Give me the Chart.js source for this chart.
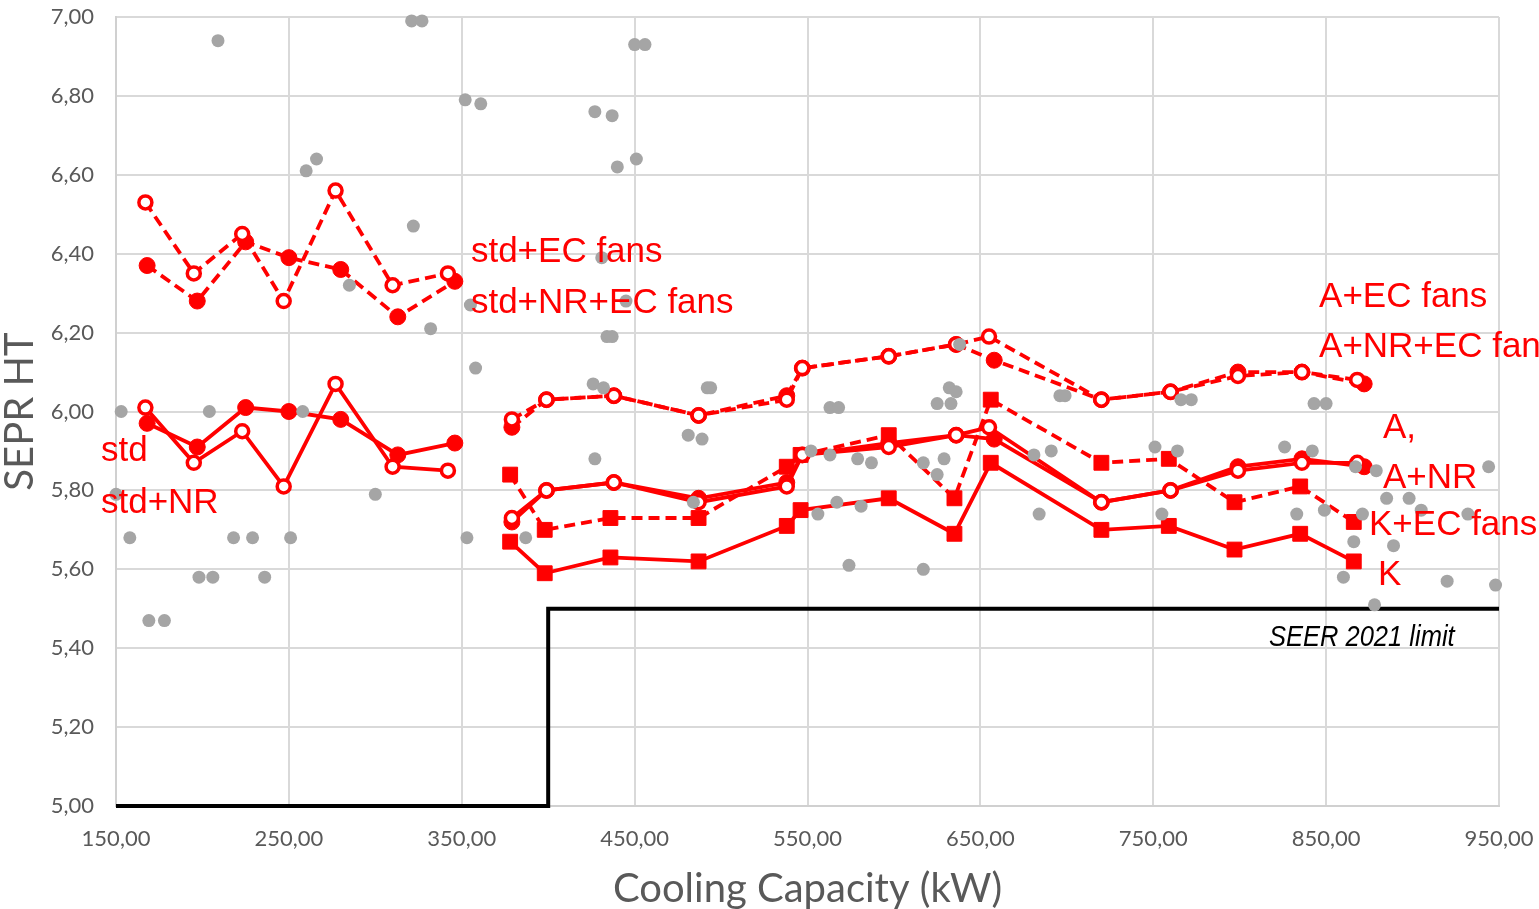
<!DOCTYPE html>
<html>
<head>
<meta charset="utf-8">
<script src="https://cdn.jsdelivr.net/npm/chart.js@4.4.1/dist/chart.umd.min.js"></script>
<style>
  html, body { margin: 0; padding: 0; background: #fff; }
  #chart { display: block; }
</style>
</head>
<body>
<canvas id="chart" width="1539" height="909"></canvas>
<script>
// tick labels
const xTicks = [150, 250, 350, 450, 550, 650, 750, 850, 950];
const yTicks = [5.0, 5.2, 5.4, 5.6, 5.8, 6.0, 6.2, 6.4, 6.6, 6.8, 7.0];

// std units (left group)
const stdHollowX = [167, 195, 223, 247, 277, 310, 342];
const stdFilledX = [168, 197, 225, 250, 280, 313, 346];
const stdNrEcFans = [6.53, 6.35, 6.45, 6.28, 6.56, 6.32, 6.35];
const stdEcFans = [6.37, 6.28, 6.43, 6.39, 6.36, 6.24, 6.33];
const stdNr = [6.01, 5.87, 5.95, 5.81, 6.07, 5.86, 5.85];
const std = [5.97, 5.91, 6.01, 6.00, 5.98, 5.89, 5.92];

// A units (right group, circles)
const aHollowX = [379, 399, 438, 487, 538, 547, 597, 636, 655, 720, 760, 799, 836, 868];
const aFilledX = [379, 399, 438, 487, 538, 547, 597, 636, 658, 720, 760, 799, 836, 872];
const aNrEcFans = [5.98, 6.03, 6.04, 5.99, 6.03, 6.11, 6.14, 6.17, 6.19, 6.03, 6.05, 6.09, 6.10, 6.08];
const aEcFans = [5.96, 6.03, 6.04, 5.99, 6.04, 6.11, 6.14, 6.17, 6.13, 6.03, 6.05, 6.10, 6.10, 6.07];
const aNr = [5.73, 5.80, 5.82, 5.77, 5.81, 5.89, 5.91, 5.94, 5.96, 5.77, 5.80, 5.85, 5.87, 5.87];
const a = [5.72, 5.80, 5.82, 5.78, 5.82, 5.89, 5.92, 5.94, 5.93, 5.77, 5.80, 5.86, 5.88, 5.86];

// K units (right group, squares)
const kX = [378, 398, 436, 487, 538, 546, 597, 635, 656, 720, 759, 797, 835, 866];
const kEcFans = [5.84, 5.70, 5.73, 5.73, 5.86, 5.89, 5.94, 5.78, 6.03, 5.87, 5.88, 5.77, 5.81, 5.72];
const k = [5.67, 5.59, 5.63, 5.62, 5.71, 5.75, 5.78, 5.69, 5.87, 5.70, 5.71, 5.65, 5.69, 5.62];

// SEER 2021 limit
const limitX = [150, 400, 400, 950];
const limitY = [5.00, 5.00, 5.50, 5.50];

// market units (grey dots)
const marketX = [209, 321, 327, 352, 361, 427, 437, 450, 456, 266, 260, 440, 451, 322, 285, 355, 332, 431, 445, 434, 437,
  153, 204, 258, 358, 300, 150, 158, 218, 229, 251, 353, 387, 198, 206, 236, 169, 178, 426, 432, 492, 494, 481, 489, 427, 484,
  563, 568, 552, 563, 579, 587, 556, 567, 581, 574, 638, 632, 636, 625, 633, 696, 699, 766, 772, 617, 629, 625, 681, 691,
  751, 764, 684, 755, 617, 843, 850, 826, 842, 867, 879, 944, 885, 898, 905, 833, 849, 871, 932, 866, 889, 860, 920, 948, 878];
const marketY = [6.94, 6.99, 6.99, 6.79, 6.78, 6.76, 6.75, 6.93, 6.93, 6.64, 6.61, 6.62, 6.64, 6.47, 6.32, 6.27, 6.21, 6.39, 6.28, 6.19, 6.19,
  6.00, 6.00, 6.00, 6.11, 5.79, 5.79, 5.68, 5.68, 5.68, 5.68, 5.68, 5.68, 5.58, 5.58, 5.58, 5.47, 5.47, 6.07, 6.06, 6.06, 6.06, 5.94, 5.93, 5.88, 5.77,
  6.01, 6.01, 5.90, 5.89, 5.88, 5.87, 5.74, 5.77, 5.76, 5.61, 6.17, 6.06, 6.05, 6.02, 6.02, 6.04, 6.04, 6.03, 6.03, 5.87, 5.88, 5.84, 5.89, 5.90,
  5.91, 5.90, 5.74, 5.74, 5.60, 6.02, 6.02, 5.91, 5.90, 5.86, 5.85, 5.86, 5.78, 5.78, 5.75, 5.74, 5.75, 5.74, 5.74, 5.67, 5.66, 5.58, 5.57, 5.56, 5.51];

// text labels in the plot
const labelTexts = ['std+EC fans', 'std+NR+EC fans', 'std', 'std+NR', 'A+EC fans', 'A+NR+EC fans', 'A,', 'A+NR', 'K+EC fans', 'K'];
const labelX = [355.3, 355.3, 141.3, 141.3, 845.9, 845.9, 882.9, 882.9, 874.8, 880];
const labelY = [6.379, 6.25, 5.875, 5.743, 6.265, 6.138, 5.933, 5.806, 5.687, 5.56];
const limitText = 'SEER 2021 limit';
const limitTextX = 816.9;
const limitTextY = 5.406;

const RED = '#ff0000';
const AXIS_GREY = '#595959';

function pts(xs, ys) {
    return ys.map((v, i) => ({ x: xs[i], y: v }));
}

function redLine(xs, ys, opts) {
    const base = {
        data: pts(xs, ys),
        showLine: true,
        borderColor: RED,
        borderWidth: 3.8,
        tension: 0,
        pointBorderColor: RED,
        order: 1,
        clip: false
    };
    if (opts.dashed) base.borderDash = [11, 6];
    if (opts.marker === 'hollow') {
        base.pointStyle = 'circle';
        base.pointRadius = 6.5;
        base.pointBorderWidth = 3.5;
        base.pointBackgroundColor = '#ffffff';
    } else if (opts.marker === 'filled') {
        base.pointStyle = 'circle';
        base.pointRadius = 8;
        base.pointBorderWidth = 1;
        base.pointBackgroundColor = RED;
    } else {
        base.pointStyle = 'rect';
        base.pointRadius = 10.5;
        base.pointBorderWidth = 1;
        base.pointBackgroundColor = RED;
    }
    base.pointHoverRadius = base.pointRadius;
    base.label = opts.label;
    return base;
}

function noPadding(scale) {
    scale.paddingTop = 0;
    scale.paddingBottom = 0;
    scale.paddingLeft = 0;
    scale.paddingRight = 0;
}

const labelPlugin = {
    id: 'plotLabels',
    afterDatasetsDraw(chart) {
        const { ctx, scales: { x, y } } = chart;
        ctx.save();
        ctx.fillStyle = RED;
        ctx.font = '35px "Liberation Sans", Arial, sans-serif';
        ctx.textBaseline = 'alphabetic';
        ctx.textAlign = 'left';
        labelTexts.forEach((t, i) => {
            ctx.fillText(t, x.getPixelForValue(labelX[i]), y.getPixelForValue(labelY[i]));
        });
        ctx.fillStyle = '#000000';
        ctx.font = 'italic 29px "Liberation Sans", Arial, sans-serif';
        ctx.translate(x.getPixelForValue(limitTextX), y.getPixelForValue(limitTextY));
        ctx.scale(0.88, 1);
        ctx.fillText(limitText, 0, 0);
        ctx.restore();
    }
};

new Chart(document.getElementById('chart'), {
    type: 'scatter',
    data: {
        datasets: [
            {
                label: 'market',
                data: pts(marketX, marketY),
                pointRadius: 6.5,
                pointHoverRadius: 6.5,
                pointBackgroundColor: '#a5a5a5',
                pointBorderWidth: 0,
                showLine: false,
                order: 0,
                clip: false
            },
            redLine(stdHollowX, stdNrEcFans, { dashed: true, marker: 'hollow', label: 'std+NR+EC fans' }),
            redLine(stdFilledX, stdEcFans, { dashed: true, marker: 'filled', label: 'std+EC fans' }),
            redLine(stdHollowX, stdNr, { dashed: false, marker: 'hollow', label: 'std+NR' }),
            redLine(stdFilledX, std, { dashed: false, marker: 'filled', label: 'std' }),
            redLine(aHollowX, aNrEcFans, { dashed: true, marker: 'hollow', label: 'A+NR+EC fans' }),
            redLine(aFilledX, aEcFans, { dashed: true, marker: 'filled', label: 'A+EC fans' }),
            redLine(aHollowX, aNr, { dashed: false, marker: 'hollow', label: 'A+NR' }),
            redLine(aFilledX, a, { dashed: false, marker: 'filled', label: 'A' }),
            redLine(kX, kEcFans, { dashed: true, marker: 'square', label: 'K+EC fans' }),
            redLine(kX, k, { dashed: false, marker: 'square', label: 'K' }),
            {
                label: 'SEER 2021 limit',
                data: pts(limitX, limitY),
                showLine: true,
                borderColor: '#000000',
                borderWidth: 4,
                pointRadius: 0,
                tension: 0,
                order: 2,
                clip: false
            }
        ]
    },
    options: {
        responsive: false,
        animation: false,
        layout: { padding: { left: 0, right: 40, top: 17, bottom: 0 } },
        plugins: {
            legend: { display: false },
            tooltip: { enabled: false }
        },
        scales: {
            x: {
                type: 'linear',
                min: 150,
                max: 950,
                afterBuildTicks: scale => { scale.ticks = xTicks.map(v => ({ value: v })); },
                afterFit: scale => { scale.height = 103; noPadding(scale); },
                grid: { color: '#d9d9d9', lineWidth: 2, drawTicks: false },
                border: { color: '#d0d0d0', width: 2 },
                ticks: {
                    padding: 20,
                    color: AXIS_GREY,
                    font: { family: 'Lato', size: 22 },
                    maxRotation: 0,
                    callback: v => Number(v).toFixed(2).replace('.', ',')
                },
                title: {
                    display: true,
                    text: 'Cooling Capacity (kW)',
                    color: AXIS_GREY,
                    font: { family: 'Lato', size: 40, lineHeight: 1 },
                    padding: { top: 0, bottom: 0 }
                }
            },
            y: {
                type: 'linear',
                min: 5,
                max: 7,
                afterBuildTicks: scale => { scale.ticks = yTicks.map(v => ({ value: v })); },
                afterFit: scale => { scale.width = 116; noPadding(scale); },
                grid: { color: '#d9d9d9', lineWidth: 2, drawTicks: false },
                border: { color: '#d0d0d0', width: 2 },
                ticks: {
                    padding: 22,
                    color: AXIS_GREY,
                    font: { family: 'Lato', size: 22 },
                    callback: v => Number(v).toFixed(2).replace('.', ',')
                },
                title: {
                    display: true,
                    text: 'SEPR HT',
                    color: AXIS_GREY,
                    font: { family: 'Lato', size: 40, lineHeight: 1 },
                    padding: { top: 0, bottom: 0 }
                }
            }
        }
    },
    plugins: [labelPlugin]
});
</script>
</body>
</html>
